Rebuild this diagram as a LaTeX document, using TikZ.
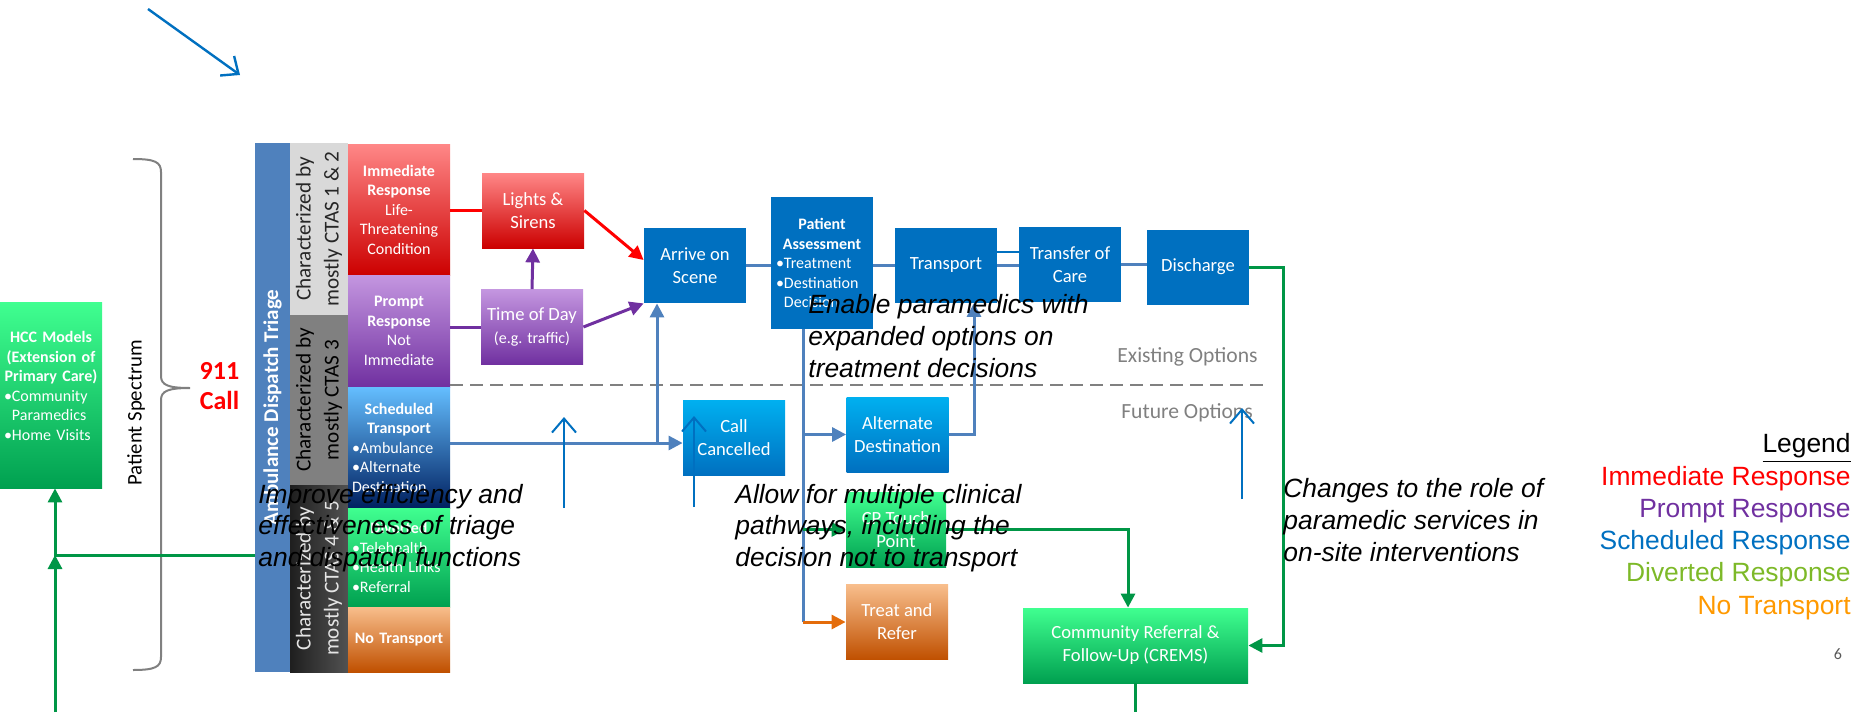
\documentclass[tikz,border=0pt]{standalone}
\usepackage{fontspec}
\setmainfont{Carlito}
\newfontfamily\arialfont{Liberation Sans}
\usetikzlibrary{arrows.meta}

\definecolor{flowblue}{RGB}{0,112,192}
\definecolor{connblue}{RGB}{79,129,189}
\definecolor{conngreen}{RGB}{0,150,70}
\definecolor{connorange}{RGB}{228,108,10}
\definecolor{connpurple}{RGB}{112,48,160}
\definecolor{redtop}{RGB}{255,135,135}
\definecolor{redbot}{RGB}{204,0,0}
\definecolor{purtop}{RGB}{196,150,224}
\definecolor{purbot}{RGB}{112,48,160}
\definecolor{skytop}{RGB}{100,190,255}
\definecolor{navybot}{RGB}{0,32,96}
\definecolor{greentop}{RGB}{64,255,144}
\definecolor{greenbot}{RGB}{0,160,80}
\definecolor{orangetop}{RGB}{248,190,140}
\definecolor{orangebot}{RGB}{192,80,0}
\definecolor{cyantop}{RGB}{0,176,240}
\definecolor{cyanbot}{RGB}{0,112,192}
\definecolor{dispblue}{RGB}{79,129,189}
\definecolor{legred}{RGB}{255,0,0}
\definecolor{legpurple}{RGB}{112,48,160}
\definecolor{legblue}{RGB}{0,112,192}
\definecolor{leggreen}{RGB}{125,185,40}
\definecolor{legorange}{RGB}{255,153,0}

\begin{document}
\begin{tikzpicture}[x=0.5pt, y=-0.5pt, >={Triangle[length=7pt,width=7pt]},
  flowbox/.style={text=white, align=center, inner sep=1pt, minimum width=51pt,
    minimum height=37.5pt, font=\fontsize{9.3}{11.5}\selectfont},
  bluebox/.style={flowbox, fill=flowblue},
  respcell/.style={text=white, align=center, inner xsep=2pt, inner ysep=0pt,
    text width=47pt, font=\fontsize{8}{9.75}\selectfont},
  ctas/.style={rotate=90, minimum height=29pt, inner sep=0pt, align=center,
    font=\fontsize{10.6}{14}\selectfont},
  conn/.style={draw=connblue, line width=1.5pt},
  redconn/.style={conn, draw=legred},
  purpleconn/.style={conn, draw=connpurple},
  greenconn/.style={conn, draw=conngreen},
  orangeconn/.style={conn, draw=connorange},
  hintarrow/.style={draw=flowblue, line width=1pt, -{Straight Barb[length=7pt,width=12pt]}},
  note/.style={font=\arialfont\itshape\fontsize{13.2}{15.8}\selectfont, align=left,
    inner sep=0pt, anchor=west},
  legline/.style={anchor=east, inner sep=0pt, font=\arialfont\fontsize{13.2}{15}\selectfont}]
\useasboundingbox (0,0) rectangle (1872,712);

% left side
\node[respcell, top color=greentop, bottom color=greenbot, minimum height=93pt, text width=47pt] (hcc) at (51,395) {};
\node[respcell, align=left] (hcctext) at (51,386) {\makebox[\linewidth]{\textbf{HCC Models}}\\\makebox[\linewidth]{\textbf{(Extension of}}\\\makebox[\linewidth]{\textbf{Primary Care)}}\\\textbullet Community\\\phantom{\textbullet}Paramedics\\\textbullet Home Visits};
\node[rotate=90, font=\fontsize{10.4}{12}\selectfont] (spectrum) at (136,413) {Patient Spectrum};
\draw[gray, line width=1pt] (133,159) .. controls (155,159) and (161,162) .. (161,172) -- (161,376)
  .. controls (161,385) and (168,388) .. (190,388) .. controls (168,388) and (161,391) .. (161,400)
  -- (161,657) .. controls (161,667) and (155,670) .. (133,670);
\node[text=legred, align=center, font=\bfseries\fontsize{13}{15}\selectfont] (call) at (219.5,386) {911\\Call};

% triage columns
\node[rotate=90, fill=dispblue, minimum width=264.5pt, minimum height=17.5pt, inner sep=0pt, text=white,
  font=\bfseries\fontsize{10.5}{12}\selectfont] (dispatch) at (272.5,407.5) {Ambulance Dispatch Triage};
\node[ctas, fill=gray!30, text=black!85, minimum width=86pt] (ctas12) at (319,229) {Characterized by\\mostly CTAS 1 \& 2};
\node[ctas, fill=gray, text=black, minimum width=85pt] (ctas3) at (319,400) {Characterized by\\mostly CTAS 3};
\node[ctas, left color=black!88, right color=black!68, text=gray!20, minimum width=93.5pt] (ctas45) at (319,578.5) {Characterized by\\mostly CTAS 4 \& 5};

\node[respcell, top color=redtop, bottom color=redbot, minimum height=65.5pt] (imm) at (399,209.5) {\textbf{Immediate}\\\textbf{Response}\\Life-\\Threatening\\Condition};
\node[respcell, top color=purtop, bottom color=purbot, minimum height=56pt] (prompt) at (399,331) {\textbf{Prompt}\\\textbf{Response}\\Not\\Immediate};
\node[respcell, top color=skytop, bottom color=navybot, minimum height=60.5pt, align=left] (sched) at (399,447.5) {\makebox[\linewidth]{\textbf{Scheduled}}\\\makebox[\linewidth]{\textbf{Transport}}\\\textbullet Ambulance\\\textbullet Alternate\\Destination};
\node[respcell, top color=greentop, bottom color=greenbot, minimum height=49.5pt, align=left] (divert) at (399,557.5) {\makebox[\linewidth]{\textbf{Diverted}}\\\textbullet Telehealth\\\textbullet Health Links\\\textbullet Referral};
\node[respcell, top color=orangetop, bottom color=orangebot, minimum height=32.5pt] (notrans) at (399,639.5) {\textbf{No Transport}};

% existing options
\node[flowbox, top color=redtop, bottom color=redbot] (lights) at (533,210.5) {Lights \&\\Sirens};
\node[flowbox, top color=purtop, bottom color=purbot] (tod) at (532,327) {Time of Day\\{\fontsize{8}{10}\selectfont(e.g. traffic)}};
\node[bluebox] (arrive) at (695,265.5) {Arrive on\\Scene};
\node[bluebox, respcell, align=left, minimum height=66pt, inner xsep=2.5pt, text width=46pt] (assess) at (822,263) {\makebox[\linewidth]{\textbf{Patient}}\\\makebox[\linewidth]{\textbf{Assessment}}\\\textbullet Treatment\\\textbullet Destination\\\phantom{\textbullet}Decision};
\node[bluebox] (transport) at (946,265) {Transport};
\node[bluebox] (transfer) at (1070,264.5) {Transfer of\\Care};
\node[bluebox] (discharge) at (1198,267) {Discharge};

% future options
\node[flowbox, top color=cyantop, bottom color=cyanbot] (cancel) at (734,437.5) {Call\\Cancelled};
\node[flowbox, top color=cyantop, bottom color=cyanbot] (altdest) at (897.5,434.5) {Alternate\\Destination};
\node[flowbox, top color=greentop, bottom color=greenbot, minimum width=50pt] (cptouch) at (896,529.5) {CP Touch\\Point};
\node[flowbox, top color=orangetop, bottom color=orangebot] (treat) at (897,622) {Treat and\\Refer};
\node[flowbox, top color=greentop, bottom color=greenbot, minimum width=112.5pt] (crems) at (1135.5,645.5) {Community Referral \&\\Follow-Up (CREMS)};

\coordinate (dashend) at (1268,385);
\draw[gray, line width=1pt, dash pattern=on 6.5pt off 3.5pt] (sched.north east |- dashend) -- (dashend);
\node[text=gray, font=\fontsize{10.8}{13}\selectfont] (existing) at (1187.5,357) {Existing Options};
\node[text=gray, font=\fontsize{10.8}{13}\selectfont] (future) at (1187,413) {Future Options};

% connectors
\draw[redconn] (imm.east |- lights.west) -- (lights.west);
\draw[redconn,->] (lights.east) -- ([yshift=2.75pt]arrive.west);
\draw[purpleconn] (prompt.east |- tod.west) -- (tod.west);
\draw[purpleconn,->] (tod.east) -- (arrive.south west);
\draw[purpleconn,->] (tod.north) -- (lights.south);
\draw[conn] (arrive.east) -- (arrive.east -| assess.west);
\draw[conn] (assess.east |- transport.west) -- (transport.west);
\draw[conn] (transport.east) -- (transport.east -| transfer.west);
\coordinate (transtop) at ([yshift=6.5pt]transport.east);
\draw[draw=flowblue, line width=1pt] (transtop) -- (transtop -| transfer.west);
\draw[conn] (transfer.east) -- (transfer.east -| discharge.west);
\draw[greenconn,->] (discharge.east) -- ++(34,0) |- (crems.east);

\coordinate (schedjoin) at (657,443);
\draw[conn,->] (sched.east |- schedjoin) -- (cancel.west |- schedjoin);
\draw[conn,->] (schedjoin) -- (schedjoin |- arrive.south);
\coordinate (branch) at (803,0);
\draw[conn] (branch |- assess.south) -- (branch |- treat.west);
\draw[conn,->] (branch |- altdest.west) -- (altdest.west);
\draw[greenconn,->] (branch |- cptouch.west) -- (cptouch.west);
\draw[orangeconn,->] (branch |- treat.west) -- (treat.west);
\draw[conn,->] (altdest.east) -| ([xshift=14pt]transport.south);
\draw[greenconn,->] (cptouch.east) -| ([xshift=-3.75pt]crems.north);
\draw[greenconn] (crems.south) -- (crems.south |- 0,712);

\coordinate (hccfoot) at (55,712);
\coordinate (hccjoin) at (55,555);
\draw[greenconn,->] (hccfoot) -- (hccjoin);
\draw[greenconn,->] (dispatch.north |- hccjoin) -- (hccjoin) -- (hccjoin |- hcc.south);

% pointer arrows
\foreach \name/\x/\ya/\yb in {a/564/508/417, b/694/507/416, c/1242/499/408}
{
    \coordinate (hint\name s) at (\x,\ya);
    \coordinate (hint\name e) at (\x,\yb);
    \draw[hintarrow] (hint\name s) -- (hint\name e);
}
\coordinate (pointers) at (148,9);
\coordinate (pointere) at (240,75);
\draw[hintarrow, line width=1.2pt] (pointers) -- (pointere);

% notes
\node[note] (triagenote) at (258,528) {Improve efficiency and\\effectiveness of triage\\and dispatch functions};
\node[note] (assessnote) at (808,336) {Enable paramedics with\\expanded options on\\treatment decisions};
\node[note] (pathnote) at (735,528) {Allow for multiple clinical\\pathways, including the\\decision not to transport};
\node[note] (rolenote) at (1283,520) {Changes to the role of\\paramedic services in\\on-site interventions};

% legend
\node[legline] (legtitle) at (1851,448) {\underline{Legend}};
\foreach \txt/\col/\y/\k in {Immediate Response/legred/479/1, Prompt Response/legpurple/511/2,
  Scheduled Response/legblue/543/3, Diverted Response/leggreen/575/4, No Transport/legorange/608/5}
{
    \node[legline, text=\col] (leg\k) at (1851,\y) {\txt};
}
\node[text=black!65, font=\fontsize{8}{10}\selectfont] (pagenum) at (1838,654) {6};
\end{tikzpicture}
\end{document}
